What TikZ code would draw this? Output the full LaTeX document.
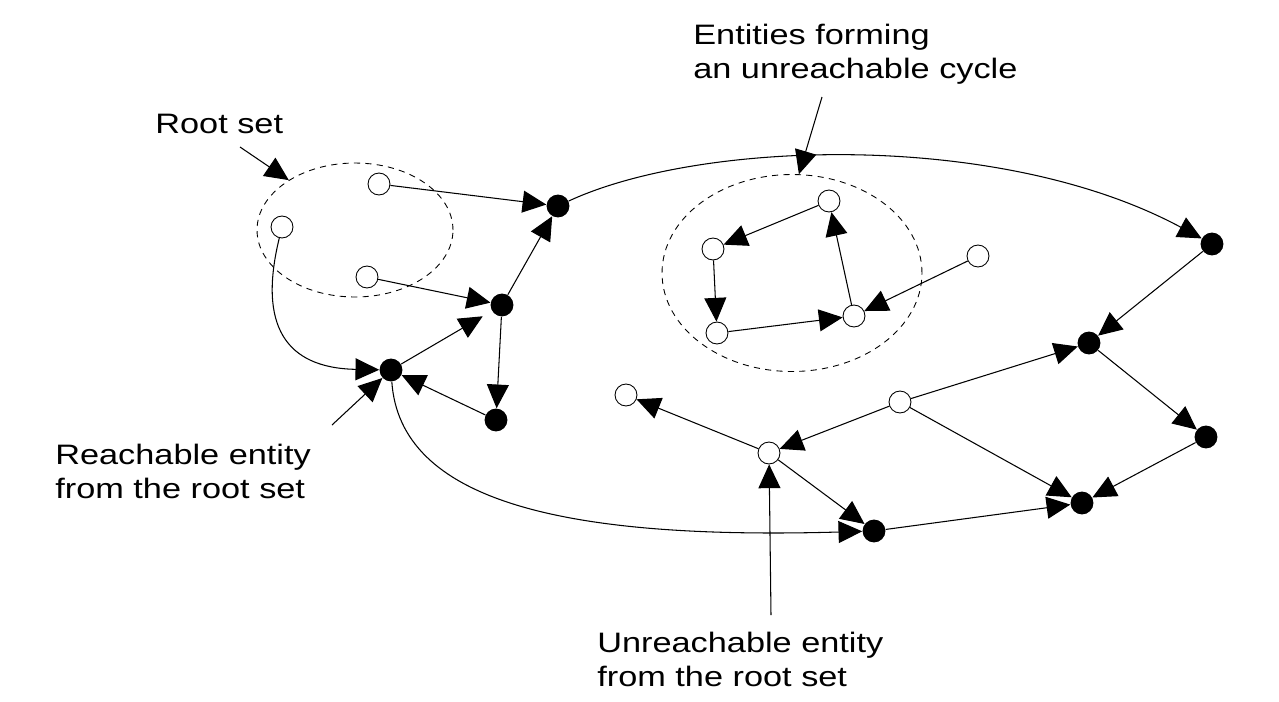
\documentclass[tikz,border=0pt]{standalone}
\usepackage{fontspec}
\setmainfont[FakeStretch=1.22]{Liberation Sans}
\usetikzlibrary{arrows.meta, shapes.geometric}

\tikzset{
  live/.style={circle, fill=black, inner sep=0pt, minimum size=13pt},
  dead/.style={circle, draw, line width=0.5pt, fill=white, inner sep=0pt, minimum size=12.5pt},
  link/.style={line width=0.6pt, -{Triangle[length=13.5pt, width=12.5pt]}},
  setring/.style={ellipse, draw, dash pattern=on 3.5pt off 3pt, line width=0.5pt, inner sep=0pt},
  labeltext/.style={font=\fontsize{16}{19}\selectfont, align=left, anchor=base west, inner sep=0pt}
}

\begin{document}
\begin{tikzpicture}[x=0.02cm, y=-0.02cm]
  \useasboundingbox (0,0) rectangle (1279,701);

  % dashed sets
  \node[setring, minimum width=3.92cm, minimum height=2.68cm] (rootset) at (355,230) {};
  \node[setring, minimum width=5.2cm, minimum height=3.94cm] (cycset) at (792,273) {};

  % root set entities
  \node[dead] (root1) at (379,184) {};
  \node[dead] (root2) at (282,227) {};
  \node[dead] (root3) at (367,277) {};

  % reachable entities
  \node[live] (liveA) at (558,206) {};
  \node[live] (liveB) at (502,305) {};
  \node[live] (liveC) at (391,370) {};
  \node[live] (liveD) at (496,420) {};
  \node[live] (liveE) at (1212,244) {};
  \node[live] (liveF) at (1089,343) {};
  \node[live] (liveG) at (1206,437) {};
  \node[live] (liveH) at (1082,503) {};
  \node[live] (liveI) at (874,531) {};

  % unreachable entities
  \node[dead] (cycP) at (829,201) {};
  \node[dead] (cycQ) at (713,249) {};
  \node[dead] (cycS) at (717,333) {};
  \node[dead] (cycT) at (854,316) {};
  \node[dead] (deadU) at (978,256) {};
  \node[dead] (deadJ) at (900,402) {};
  \node[dead] (deadK) at (769,453) {};
  \node[dead] (deadL) at (626,395) {};

  % references from the root set
  \draw[link] (root1) -- (liveA);
  \draw[link] (root3) -- (liveB);
  \draw[link] (root2) .. controls (258,325) and (285,368) .. (liveC);
  \draw[link] (liveB) -- (liveA);
  \draw[link, shorten >=6pt] (liveC) -- (liveB);
  \draw[link] (liveD) -- (liveC);
  \draw[link] (liveB) -- (liveD);
  \draw[link] (liveA) .. controls (700,140) and (1000,130) .. (liveE);
  \draw[link] (liveC) .. controls (400,500) and (560,540) .. (liveI);
  \draw[link] (liveE) -- (liveF);
  \draw[link] (liveF) -- (liveG);
  \draw[link] (liveG) -- (liveH);
  \draw[link] (liveI) -- (liveH);

  % cycle
  \draw[link] (cycP) -- (cycQ);
  \draw[link] (cycQ) -- (cycS);
  \draw[link] (cycS) -- (cycT);
  \draw[link] (cycT) -- (cycP);
  \draw[link] (deadU) -- (cycT);

  % garbage pointing into the live part
  \draw[link] (deadJ) -- (liveF);
  \draw[link] (deadJ) -- (liveH);
  \draw[link] (deadJ) -- (deadK);
  \draw[link] (deadK) -- (deadL);
  \draw[link] (deadK) -- (liveI);

  % labels (base = last line)
  \node[labeltext] (lblroot) at (155,133) {Root set};
  \node[labeltext] (lblcycle) at (693,78) {Entities forming\\an unreachable cycle};
  \node[labeltext] (lblreach) at (55,498) {Reachable entity\\from the root set};
  \node[labeltext] (lblunreach) at (597,686) {Unreachable entity\\from the root set};

  \coordinate (ptroot) at (240,147);
  \coordinate (ptcycle) at (822,97);
  \coordinate (ptreach) at (332,425);
  \coordinate (ptunreach) at (771,615);
  \draw[link] (ptroot) -- (rootset.143);
  \draw[link] (ptcycle) -- (cycset.86);
  \draw[link] (ptreach) -- (liveC);
  \draw[link] (ptunreach) -- (deadK);
\end{tikzpicture}
\end{document}
